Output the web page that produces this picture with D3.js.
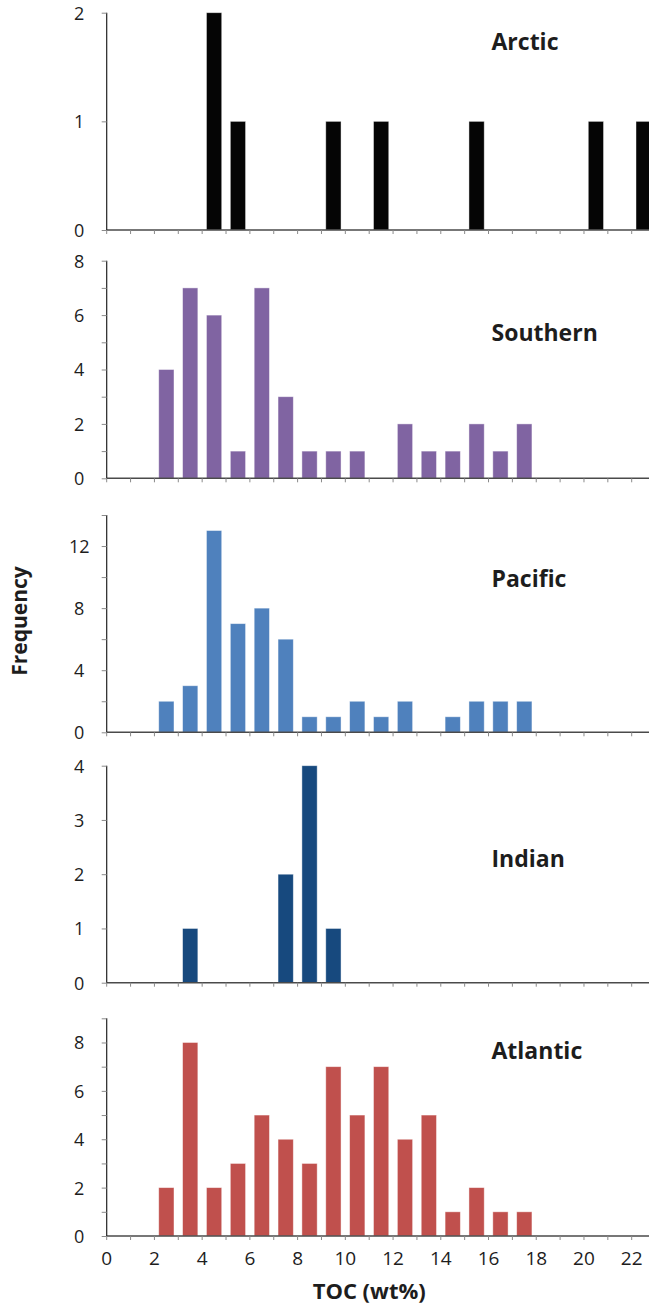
<!DOCTYPE html>
<html>
<head>
<meta charset="utf-8">
<script src="https://cdn.jsdelivr.net/npm/d3@7/dist/d3.min.js"></script>
<style>
  html, body { margin: 0; padding: 0; background: #fff; }
  svg { display: block; }
  text { font-family: "Open Sans", "Noto Sans", "DejaVu Sans", sans-serif; fill: #1d1d1d; }
</style>
</head>
<body>
<svg id="chart" width="649" height="1307"></svg>
<script>
// TOC bins: lower edge of each 1 wt% bin
const binStarts = d3.range(0, 23);
const xTickLabels = [0, 2, 4, 6, 8, 10, 12, 14, 16, 18, 20, 22];

// Frequency per bin, one series per ocean basin
const arctic   = [0,0,0,0,2,1,0,0,0,1,0,1,0,0,0,1,0,0,0,0,1,0,1];
const southern = [0,0,4,7,6,1,7,3,1,1,1,0,2,1,1,2,1,2,0,0,0,0,0];
const pacific  = [0,0,2,3,13,7,8,6,1,1,2,1,2,0,1,2,2,2,0,0,0,0,0];
const indian   = [0,0,0,1,0,0,0,2,4,1,0,0,0,0,0,0,0,0,0,0,0,0,0];
const atlantic = [0,0,2,8,2,3,5,4,3,7,5,7,4,5,1,2,1,1,0,0,0,0,0];

const basinNames = ["Arctic", "Southern", "Pacific", "Indian", "Atlantic"];

// Y axis set-up per panel: max, tick step, label step
const yMax       = [2, 8, 14, 4, 9];
const yTickStep  = [1, 1, 2, 1, 1];
const yLabelStep = [1, 2, 4, 1, 2];

const series = [arctic, southern, pacific, indian, atlantic];
const colors = ["#050505", "#8064A2", "#4F81BD", "#17497E", "#C0504D"];

// Panel layout (pixel positions)
const panelTop    = [12.7, 260.7, 515, 765.7, 1018.3];
const panelBottom = [230, 478.3, 732.3, 982.7, 1236];
const titleBase   = [50, 340.5, 586.5, 866.5, 1059];

const svg = d3.select("#chart");
const W = 649;
const x0 = 106.7, x22 = 631.7;
const x = d3.scaleLinear().domain([0, 22]).range([x0, x22]);
const unit = x(1) - x(0);
const barW = unit * 0.64;

series.forEach((vals, p) => {
  const g = svg.append("g");
  const y = d3.scaleLinear().domain([0, yMax[p]]).range([panelBottom[p], panelTop[p]]);

  // bars
  g.selectAll("rect.bar")
    .data(binStarts.map((b, i) => ({ b, v: vals[i] })).filter(d => d.v > 0))
    .join("rect")
    .attr("class", "bar")
    .attr("x", d => x(d.b + 0.5) - barW / 2)
    .attr("width", barW)
    .attr("y", d => y(d.v))
    .attr("height", d => y(0) - y(d.v))
    .attr("fill", colors[p])
    .attr("stroke", "rgba(255,255,255,0.55)")
    .attr("stroke-width", 0.8);

  // x axis line and minor ticks every 1 wt%
  g.append("line")
    .attr("x1", x0).attr("x2", W)
    .attr("y1", y(0)).attr("y2", y(0))
    .attr("stroke", "#4a4a4a").attr("stroke-width", 1.6);
  const xt = d3.range(0, 23);
  g.selectAll("line.xt").data(xt).join("line")
    .attr("class", "xt")
    .attr("x1", d => x(d)).attr("x2", d => x(d))
    .attr("y1", y(0)).attr("y2", y(0) + 4)
    .attr("stroke", "#8a8a8a").attr("stroke-width", 1);

  // y axis
  const yTicks = d3.range(0, yMax[p] + 0.001, yTickStep[p]);
  const yAxis = d3.axisLeft(y)
    .tickValues(yTicks)
    .tickSize(5)
    .tickFormat(d => (d % yLabelStep[p] === 0 ? d : ""));
  const ya = g.append("g")
    .attr("transform", `translate(${x0},0)`)
    .call(yAxis);
  ya.select(".domain").attr("stroke", "#222").attr("stroke-width", 1.2)
    .attr("d", `M0,${y(yMax[p])}V${y(0)}`);
  ya.selectAll(".tick line").attr("stroke", "#8a8a8a");
  ya.selectAll(".tick text")
    .attr("x", -27.5)
    .attr("text-anchor", "middle")
    .attr("dy", "0.36em")
    .style("font-size", "18px")
    .attr("fill", "#1d1d1d");

  // basin title
  g.append("text")
    .attr("x", 491.5)
    .attr("y", titleBase[p])
    .style("font-size", "23px")
    .style("font-weight", "700")
    .attr("fill", "#231f20")
    .text(basinNames[p]);

  // x tick labels only on the bottom panel
  if (p === series.length - 1) {
    g.selectAll("text.xl").data(xTickLabels).join("text")
      .attr("class", "xl")
      .attr("x", d => x(d))
      .attr("y", 1264.5)
      .attr("text-anchor", "middle")
      .style("font-size", "19px")
      .text(d => d);
  }
});

// axis titles
svg.append("text")
  .attr("x", (x0 + x22) / 2)
  .attr("y", 1298.5)
  .attr("text-anchor", "middle")
  .style("font-size", "22px")
  .style("font-weight", "700")
  .attr("fill", "#231f20")
  .text("TOC (wt%)");

svg.append("text")
  .attr("transform", "translate(26.5,621) rotate(-90)")
  .attr("text-anchor", "middle")
  .style("font-size", "21px")
  .style("font-weight", "700")
  .attr("fill", "#231f20")
  .text("Frequency");
</script>
</body>
</html>
